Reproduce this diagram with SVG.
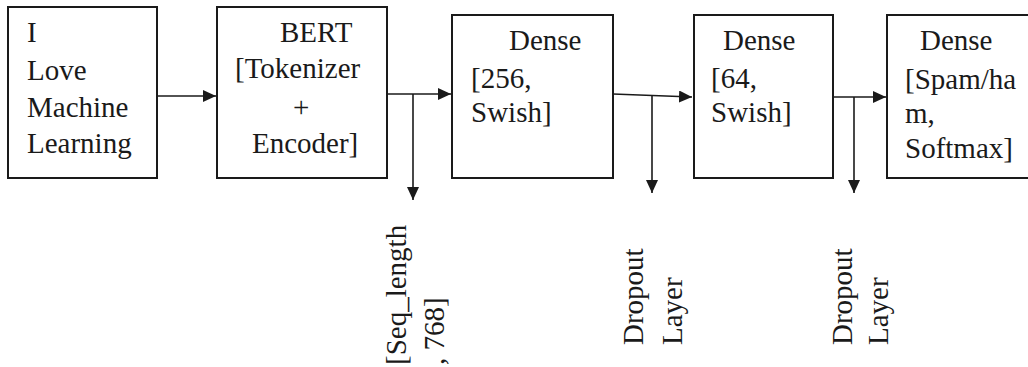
<svg xmlns="http://www.w3.org/2000/svg" width="1028" height="367" viewBox="0 0 1028 367">
<style>
  .box { fill: #ffffff; stroke: #1a1a1a; stroke-width: 2; }
  .t { font-family: 'Liberation Serif', 'Times New Roman', Times, serif; font-size: 29px; fill: #1a1a1a; }
  .c { fill: none; stroke: #1a1a1a; stroke-width: 1.6; }
</style>
<defs>
  <marker id="ah" markerUnits="userSpaceOnUse" markerWidth="13" markerHeight="12" refX="13" refY="6" orient="auto">
    <path d="M0,0 L13,6 L0,12 z" fill="#1a1a1a"/>
  </marker>
</defs>
<rect width="1028" height="367" fill="#ffffff"/>

<g id="connectors">
  <line class="c" x1="157" y1="96" x2="216" y2="96" marker-end="url(#ah)"/>
  <line class="c" x1="387" y1="94" x2="451" y2="94" marker-end="url(#ah)"/>
  <line class="c" x1="413" y1="94" x2="413" y2="200" marker-end="url(#ah)"/>
  <line class="c" x1="613" y1="94" x2="692" y2="97" marker-end="url(#ah)"/>
  <line class="c" x1="652" y1="95" x2="652" y2="193" marker-end="url(#ah)"/>
  <line class="c" x1="833" y1="97" x2="886" y2="97" marker-end="url(#ah)"/>
  <line class="c" x1="854" y1="97" x2="854" y2="193" marker-end="url(#ah)"/>
</g>

<g id="input">
  <rect class="box" x="8" y="7" width="149" height="171"/>
  <text class="t" x="27" y="42">I</text>
  <text class="t" x="27" y="80">Love</text>
  <text class="t" x="27" y="117">Machine</text>
  <text class="t" x="27" y="153">Learning</text>
</g>

<g id="bert">
  <rect class="box" x="217" y="7" width="170" height="171"/>
  <text class="t" x="280" y="42">BERT</text>
  <text class="t" x="235" y="78">[Tokenizer</text>
  <text class="t" x="293" y="117">+</text>
  <text class="t" x="252" y="153">Encoder]</text>
</g>

<g id="dense256">
  <rect class="box" x="452" y="15" width="161" height="163"/>
  <text class="t" x="509" y="50">Dense</text>
  <text class="t" x="471" y="88">[256,</text>
  <text class="t" x="471" y="122">Swish]</text>
</g>

<g id="dense64">
  <rect class="box" x="694" y="15" width="139" height="163"/>
  <text class="t" x="723" y="50">Dense</text>
  <text class="t" x="711" y="88">[64,</text>
  <text class="t" x="711" y="122">Swish]</text>
</g>

<g id="denseout">
  <rect class="box" x="887" y="15" width="150" height="163"/>
  <text class="t" x="920" y="50">Dense</text>
  <text class="t" x="905" y="89">[Spam/ha</text>
  <text class="t" x="905" y="123">m,</text>
  <text class="t" x="905" y="158">Softmax]</text>
</g>

<g id="seq-label">
  <text class="t" x="406" y="365" transform="rotate(-90 406 365)">[Seq_length</text>
  <text class="t" x="444" y="365" transform="rotate(-90 444 365)">, 768]</text>
</g>

<g id="dropout1">
  <text class="t" x="643" y="345" transform="rotate(-90 643 345)">Dropout</text>
  <text class="t" x="682" y="345" transform="rotate(-90 682 345)">Layer</text>
</g>

<g id="dropout2">
  <text class="t" x="852" y="345" transform="rotate(-90 852 345)">Dropout</text>
  <text class="t" x="888" y="345" transform="rotate(-90 888 345)">Layer</text>
</g>
</svg>
